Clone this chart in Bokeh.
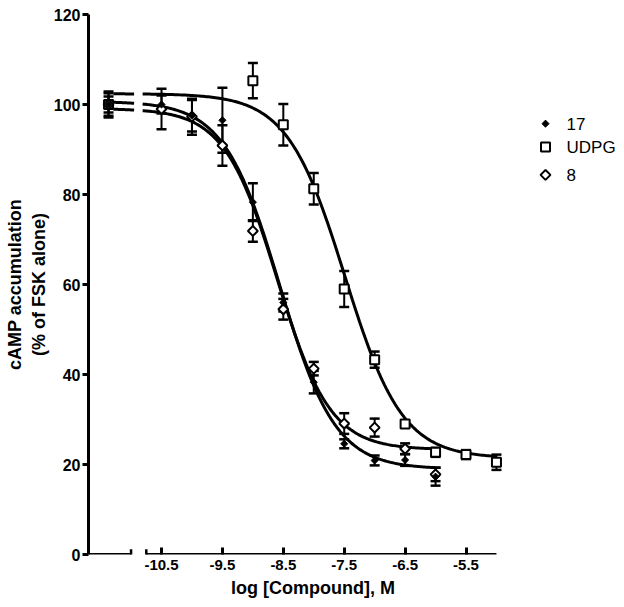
import numpy as np
from bokeh.plotting import figure
from bokeh.layouts import row
from bokeh.models import (ColumnDataSource, Whisker, TeeHead, Arrow,
                          FixedTicker, Range1d)
from bokeh.core.properties import value
from bokeh.embed import file_html
from bokeh.resources import INLINE

# ---------------- data ----------------
control_x = -11.37
control_17 = 100.0
control_17_err = 2.9
control_udpg = 100.0
control_udpg_err = 1.8
control_8 = 100.0
control_8_err = 2.5

log_conc = [-10.5, -10.0, -9.5, -9.0, -8.5, -8.0, -7.5, -7.0, -6.5, -6.0]
c17_mean = [100.0, 97.5, 96.5, 78.3, 56.0, 38.3, 24.6, 20.9, 21.0, 17.3]
c17_err = [2.0, 3.5, 7.2, 4.2, 2.0, 2.5, 1.0, 1.1, 1.3, 2.0]
c8_mean = [99.0, 97.3, 90.9, 71.9, 54.5, 41.3, 29.1, 28.2, 23.5, 17.8]
c8_err = [4.5, 4.0, 4.5, 2.4, 2.3, 1.5, 2.3, 2.0, 1.2, 1.5]

udpg_conc = [-9.0, -8.5, -8.0, -7.5, -7.0, -6.5, -6.0, -5.5, -5.0]
udpg_mean = [105.3, 95.5, 81.3, 59.0, 43.3, 29.0, 22.7, 22.2, 20.5]
udpg_err = [3.9, 4.6, 3.5, 4.0, 1.8, 0.8, 1.0, 1.0, 1.7]

# fitted sigmoid parameters (top, bottom, logIC50, hill)
fit_17 = (100.7, 19.0, -8.56, 0.95)
fit_8 = (99.1, 23.3, -8.60, 1.0)
fit_udpg = (102.4, 21.4, -7.49, 0.92)

series_names = ["17", "UDPG", "8"]

x_ticks = [-10.5, -9.5, -8.5, -7.5, -6.5, -5.5]
y_ticks = [0, 20, 40, 60, 80, 100, 120]
x_start, x_end = -11.699, -4.326
break_left_end = -11.0
break_right_start = -10.75
axis_right_end = -5.0

FONT = "Liberation Sans"

# ---------------- main figure ----------------
p = figure(frame_width=449, frame_height=540,
           min_border_left=88, min_border_right=0,
           min_border_top=14, min_border_bottom=53,
           x_range=Range1d(x_start, x_end), y_range=Range1d(0, 120),
           output_backend="svg", toolbar_location=None)
p.outline_line_color = None
p.xgrid.visible = False
p.ygrid.visible = False
p.background_fill_color = "white"
p.border_fill_color = "white"


def sigmoid(x, params):
    top, bottom, lc, h = params
    x = np.asarray(x)
    return bottom + (top - bottom) / (1 + 10 ** ((x - lc) * h))


def draw_curve(params, x_last):
    for a, b in ((-11.29, -10.95), (-10.81, x_last)):
        xs = np.linspace(a, b, 200)
        p.line(xs, sigmoid(xs, params), line_color="black", line_width=3)


draw_curve(fit_udpg, -5.0)
draw_curve(fit_17, -6.0)
draw_curve(fit_8, -6.0)


def add_err(xs, ys, es):
    src = ColumnDataSource(dict(x=list(xs),
                                upper=[y + e for y, e in zip(ys, es)],
                                lower=[y - e for y, e in zip(ys, es)]))
    w = Whisker(source=src, base="x", upper="upper", lower="lower",
                dimension="height", line_width=2, line_color="black",
                upper_head=TeeHead(size=10, line_width=2.5, line_color="black"),
                lower_head=TeeHead(size=10, line_width=2.5, line_color="black"),
                level="underlay")
    p.add_layout(w)


add_err([control_x] + log_conc, [control_8] + c8_mean, [control_8_err] + c8_err)
add_err([control_x] + log_conc, [control_17] + c17_mean, [control_17_err] + c17_err)
add_err([control_x] + udpg_conc, [control_udpg] + udpg_mean, [control_udpg_err] + udpg_err)

STYLE = {
    "UDPG": dict(marker="square", angle=0, size=9, line_color="black",
                 line_width=2, fill_color="white"),
    "8": dict(marker="square", angle=np.pi / 4, size=7, line_color="black",
              line_width=2, fill_color="white"),
    "17": dict(marker="square", angle=np.pi / 4, size=5, line_color="black",
               line_width=1, fill_color="black"),
}

p.scatter([control_x] + udpg_conc, [control_udpg] + udpg_mean, **STYLE["UDPG"])
p.scatter([control_x] + log_conc, [control_8] + c8_mean, **STYLE["8"])
p.scatter([control_x] + log_conc, [control_17] + c17_mean, **STYLE["17"])

# ---------------- axes ----------------
p.yaxis.ticker = FixedTicker(ticks=y_ticks)
p.yaxis.axis_line_width = 3
p.yaxis.major_tick_out = 6
p.yaxis.major_tick_in = 0
p.yaxis.major_tick_line_width = 3
p.yaxis.minor_tick_line_color = None
p.yaxis.major_label_standoff = 2
p.yaxis.major_label_text_font = FONT
p.yaxis.major_label_text_font_style = "bold"
p.yaxis.major_label_text_font_size = "16px"
p.yaxis.major_label_text_color = "black"
p.yaxis.axis_label = "cAMP accumulation\n(% of FSK alone)"
p.yaxis.axis_label_text_font = FONT
p.yaxis.axis_label_text_font_style = "bold"
p.yaxis.axis_label_text_font_size = "18px"
p.yaxis.axis_label_text_color = "black"
p.yaxis.axis_label_standoff = 2

p.xaxis.ticker = FixedTicker(ticks=x_ticks)
p.xaxis.major_label_overrides = {t: str(t) for t in x_ticks}
p.xaxis.axis_line_color = None
p.xaxis.major_tick_in = 7
p.xaxis.major_tick_out = 0
p.xaxis.major_tick_line_width = 3
p.xaxis.minor_tick_line_color = None
p.xaxis.major_label_standoff = 5
p.xaxis.major_label_text_font = FONT
p.xaxis.major_label_text_font_style = "bold"
p.xaxis.major_label_text_font_size = "15px"
p.xaxis.major_label_text_color = "black"
p.xaxis.axis_label = "log [Compound], M"
p.xaxis.axis_label_text_font = FONT
p.xaxis.axis_label_text_font_style = "bold"
p.xaxis.axis_label_text_font_size = "18px"
p.xaxis.axis_label_text_color = "black"
p.xaxis.axis_label_standoff = 5

# broken x-axis line
for a, b in ((x_start, break_left_end), (break_right_start, axis_right_end)):
    p.add_layout(Arrow(x_start=a, y_start=0, x_end=b, y_end=0, end=None,
                       line_width=3, line_color="black"))
for bx in (break_left_end, break_right_start):
    p.add_layout(Arrow(x_start=bx, y_start=-1.15, x_end=bx, y_end=1.15, end=None,
                       line_width=2.5, line_color="black"))

# ---------------- legend panel (screen-pixel coordinates) ----------------
lg = figure(width=87, height=607, x_range=Range1d(0, 87), y_range=Range1d(607, 0),
            min_border=0, x_axis_location=None, y_axis_location=None,
            output_backend="svg", toolbar_location=None)
lg.outline_line_color = None
lg.xgrid.visible = False
lg.ygrid.visible = False
lg.border_fill_color = "white"
lg.background_fill_color = "white"

legend_rows = [122.7, 149.0, 180.3]
legend_marker_x = 8
legend_text_x = 29
for name, yy in zip(series_names, legend_rows):
    lg.scatter([legend_marker_x], [yy], **STYLE[name])
lg.text(x=[legend_text_x] * 3, y=legend_rows, text=series_names,
        text_font=value(FONT), text_font_size="17px", text_color="black",
        text_baseline="middle", text_align="left")

layout = row(p, lg)
open("out.html", "w").write(file_html(layout, INLINE))
